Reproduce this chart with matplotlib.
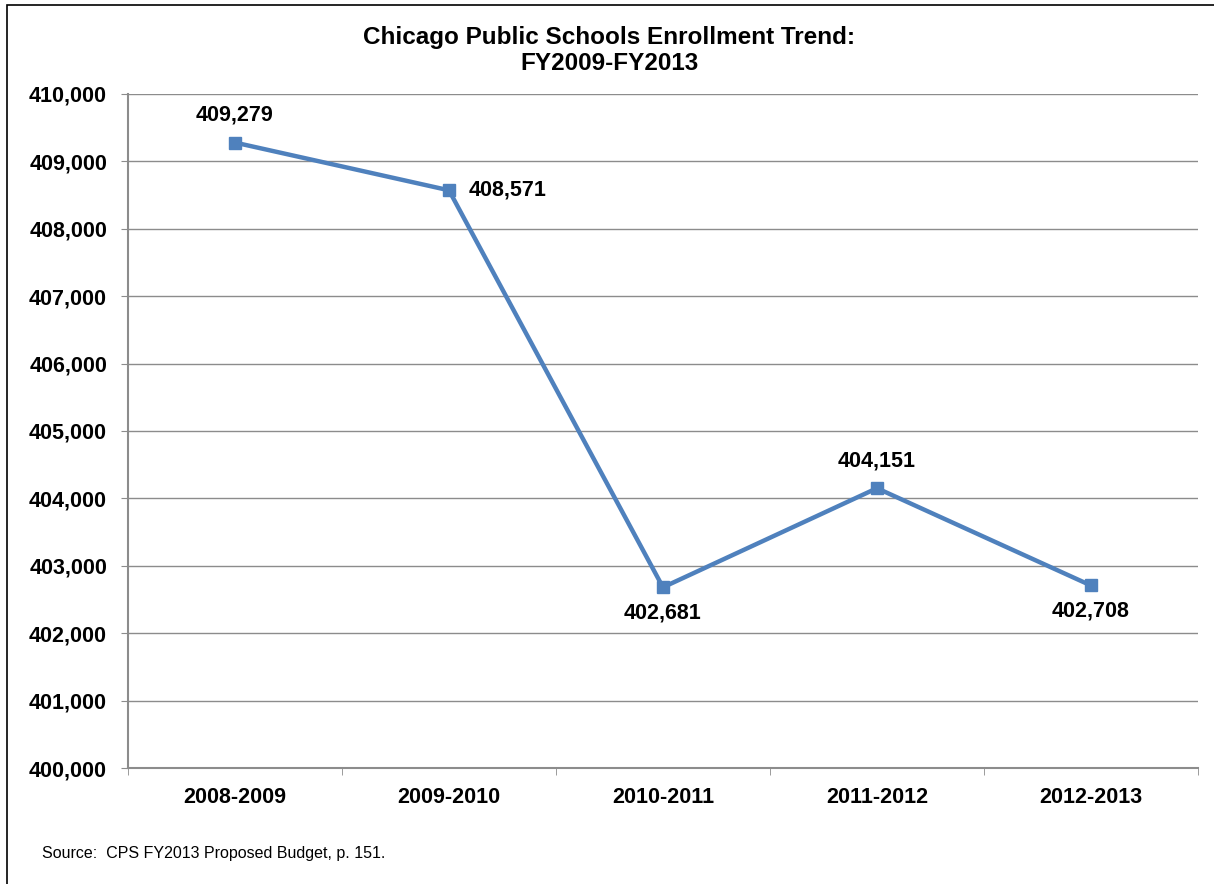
import matplotlib.pyplot as plt
from matplotlib.patches import Rectangle
from matplotlib.ticker import FuncFormatter, FixedLocator

plt.rcParams['font.family'] = ['Liberation Sans', 'DejaVu Sans']

# data
years = ['2008-2009', '2009-2010', '2010-2011', '2011-2012', '2012-2013']
enrollment = [409279, 408571, 402681, 404151, 402708]
# where each value label sits relative to its point
label_pos = ['above', 'right', 'below', 'above', 'below']

fig = plt.figure(figsize=(12.14, 8.84), dpi=100)
ax = fig.add_axes([0.1054, 0.1312, 0.8814, 0.7625])

x = list(range(len(years)))
ax.plot(x, enrollment, color='#4F81BD', lw=3.2, marker='s', ms=9,
        markerfacecolor='#4F81BD', markeredgecolor='#4F81BD', zorder=3)

fs = 15.5
for xi, v, pos in zip(x, enrollment, label_pos):
    txt = f'{v:,}'
    if pos == 'above':
        ax.annotate(txt, (xi, v), xytext=(0, 12), textcoords='offset points',
                    ha='center', va='bottom', fontsize=fs, fontweight='bold')
    elif pos == 'below':
        ax.annotate(txt, (xi, v), xytext=(0, -11), textcoords='offset points',
                    ha='center', va='top', fontsize=fs, fontweight='bold')
    else:
        ax.annotate(txt, (xi, v), xytext=(14, 0), textcoords='offset points',
                    ha='left', va='center', fontsize=fs, fontweight='bold')

ax.set_xlim(-0.5, len(years) - 0.5)
ax.set_ylim(400000, 410000)
ax.set_yticks(range(400000, 410001, 1000))
ax.yaxis.set_major_formatter(FuncFormatter(lambda v, p: f'{int(v):,}'))
ax.grid(axis='y', color='#8c8c8c', lw=1)
ax.set_axisbelow(True)

# category labels centred, tick marks on the boundaries
ax.set_xticks(x)
ax.set_xticklabels(years, fontsize=fs, fontweight='bold')
ax.xaxis.set_minor_locator(FixedLocator([i - 0.5 for i in range(len(years) + 1)]))
ax.tick_params(axis='x', which='major', length=0, pad=14)
ax.tick_params(axis='x', which='minor', length=5, color='#8c8c8c', direction='out')
ax.tick_params(axis='y', length=5, color='#8c8c8c', labelsize=fs, pad=10)
for lab in ax.get_yticklabels():
    lab.set_fontweight('bold')

for side in ['top', 'right']:
    ax.spines[side].set_visible(False)
for side in ['left', 'bottom']:
    ax.spines[side].set_color('#8c8c8c')
    ax.spines[side].set_linewidth(1.5)

fig.text(0.502, 0.958, 'Chicago Public Schools Enrollment Trend:', ha='center',
         va='center', fontsize=17.5, fontweight='bold')
fig.text(0.502, 0.928, 'FY2009-FY2013', ha='center', va='center',
         fontsize=17.5, fontweight='bold')

fig.text(0.035, 0.035, 'Source:  CPS FY2013 Proposed Budget, p. 151.',
         ha='left', va='center', fontsize=11.5)

# outer chart frame
fig.patches.append(Rectangle((0.0058, -0.01), 1.2, 1.004, transform=fig.transFigure,
                             fill=False, edgecolor='black', lw=1.2))

fig.savefig('out.png', dpi=100)
